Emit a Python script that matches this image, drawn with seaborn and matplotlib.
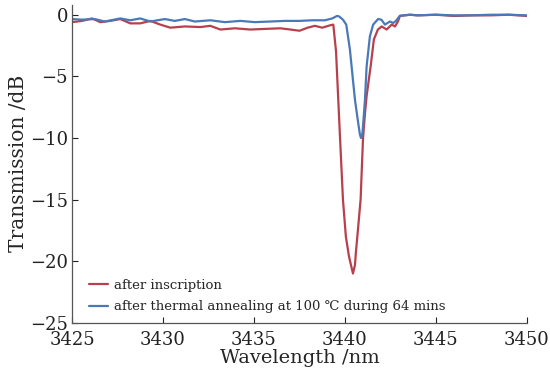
import numpy as np
import pandas as pd
import matplotlib
matplotlib.use("Agg")
import matplotlib.pyplot as plt
import seaborn as sns

# Transmission spectrum right after inscription (wavelength nm, transmission dB)
wl_inscription = [3425.0, 3425.55, 3426.1, 3426.55, 3427.1, 3427.65, 3428.2, 3428.75,
                  3429.3, 3429.85, 3430.4, 3431.2, 3432.05, 3432.6, 3433.15, 3433.95,
                  3434.8, 3435.6, 3436.45, 3437.0, 3437.5, 3437.95, 3438.35, 3438.75,
                  3439.2, 3439.36, 3439.51, 3439.62, 3439.73, 3439.89, 3440.05, 3440.22,
                  3440.33, 3440.44, 3440.55, 3440.6, 3440.74, 3440.86, 3440.99, 3441.1,
                  3441.19, 3441.41, 3441.59, 3441.81, 3442.02, 3442.29, 3442.57, 3442.75,
                  3442.91, 3443.02, 3443.3, 3443.57, 3444.0, 3445.0, 3446.0,
                  3447.0, 3448.0, 3449.0, 3450.0]
tr_inscription = [-0.6, -0.5, -0.3, -0.6, -0.5, -0.35, -0.7, -0.7,
                  -0.5, -0.8, -1.05, -0.95, -1.0, -0.9, -1.2, -1.1,
                  -1.2, -1.15, -1.1, -1.2, -1.3, -1.05, -0.9, -1.05,
                  -0.85, -0.8, -3.0, -6.5, -10.0, -15.0, -18.0, -19.6,
                  -20.3, -21.0, -20.3, -19.3, -17.0, -15.0, -10.1, -8.0,
                  -6.6, -4.2, -2.0, -1.2, -0.95, -1.2, -0.8, -0.95,
                  -0.55, -0.1, -0.05, 0.0, -0.05, 0.0, -0.1,
                  -0.05, -0.05, 0.0, -0.1]

# Transmission spectrum after annealing at 100 °C for 64 min
wl_annealed = [3425.0, 3425.55, 3426.25, 3426.8, 3427.65, 3428.2, 3428.75, 3429.3,
               3430.1, 3430.65, 3431.2, 3431.75, 3432.6, 3433.4, 3434.25, 3435.05,
               3435.9, 3436.7, 3437.5, 3438.2, 3438.9, 3439.3, 3439.56, 3439.67,
               3439.89, 3440.07, 3440.27, 3440.44, 3440.55, 3440.7,
               3440.82, 3440.88, 3440.96, 3441.02, 3441.1, 3441.19, 3441.37, 3441.55,
               3441.82, 3442.0, 3442.2, 3442.47, 3442.65, 3442.8, 3443.02,
               3443.57, 3444.0, 3445.0, 3446.0, 3447.0, 3448.0, 3449.0, 3450.0]
tr_annealed = [-0.35, -0.4, -0.35, -0.55, -0.3, -0.45, -0.3, -0.55,
               -0.35, -0.5, -0.35, -0.55, -0.45, -0.6, -0.5, -0.6,
               -0.55, -0.5, -0.5, -0.45, -0.45, -0.3, -0.1, -0.13,
               -0.4, -0.8, -2.8, -5.3, -6.9, -8.5,
               -9.7, -10.0, -9.6, -8.5, -6.9, -4.2, -1.75, -0.8,
               -0.35, -0.4, -0.8, -0.55, -0.67, -0.5, -0.08,
               0.0, -0.05, 0.0, -0.05, -0.05, 0.0, 0.0, -0.05]

labels = ["after inscription", "after thermal annealing at 100 \u2103 during 64 mins"]
colors = ["#b8404c", "#4a79b9"]
x_ticks = [3425, 3430, 3435, 3440, 3445, 3450]
y_ticks = [0, -5, -10, -15, -20, -25]

df = pd.concat([
    pd.DataFrame({"Wavelength": wl_inscription, "Transmission": tr_inscription, "state": labels[0]}),
    pd.DataFrame({"Wavelength": wl_annealed, "Transmission": tr_annealed, "state": labels[1]}),
], ignore_index=True)

sns.set_style("ticks")
plt.rcParams["font.family"] = ["DejaVu Serif", "Noto Sans CJK SC"]
plt.rcParams["mathtext.fontset"] = "dejavuserif"

fig = plt.figure(figsize=(5.5, 3.75), dpi=100)
ax = fig.add_axes([0.131, 0.139, 0.827, 0.848])

sns.lineplot(data=df, x="Wavelength", y="Transmission", hue="state",
             palette=colors, linewidth=1.6, sort=False, estimator=None, ax=ax)

ax.set_xlim(3425, 3450)
ax.set_ylim(-25, 0.8)
ax.set_xticks(x_ticks)
ax.set_yticks(y_ticks)
ax.set_xticklabels([str(t) for t in x_ticks])
ax.set_yticklabels([str(t).replace("-", "\u2212") for t in y_ticks])
ax.tick_params(direction="in", length=4, width=0.8, labelsize=13, colors="#222222")
ax.tick_params(axis="x", pad=6)
ax.tick_params(axis="y", pad=3)
for s in ["top", "right"]:
    ax.spines[s].set_visible(False)
for s in ["left", "bottom"]:
    ax.spines[s].set_color("#555555")
    ax.spines[s].set_linewidth(0.9)

ax.set_xlabel("Wavelength /nm", fontsize=14, labelpad=0)
ax.set_ylabel("Transmission /dB", fontsize=14.5, labelpad=1)

ax.legend(loc="lower left", bbox_to_anchor=(0.02, 0.005), frameon=False,
          fontsize=9.5, handlelength=1.4, handletextpad=0.5, labelspacing=0.65,
          borderaxespad=0.2)

fig.savefig("out.png", dpi=100)
